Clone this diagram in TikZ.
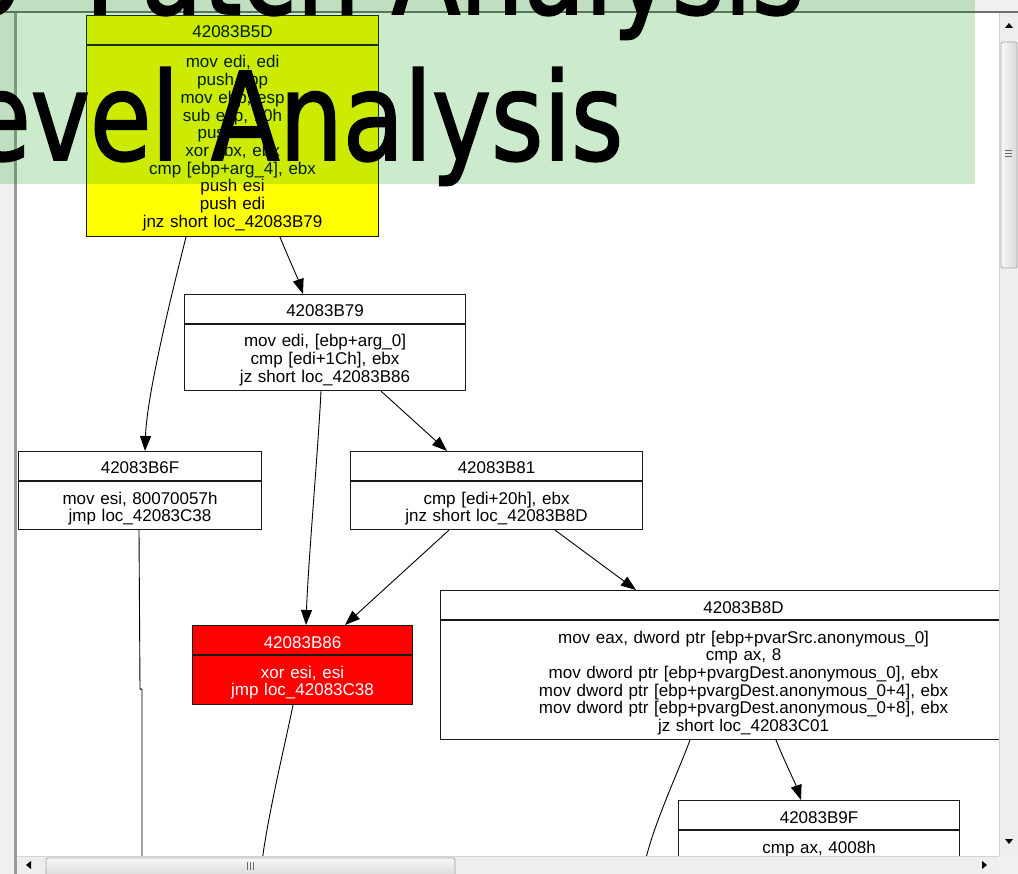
\documentclass[tikz,border=0pt]{standalone}
\usepackage{fontspec}
\setmainfont{Liberation Sans}
\newfontfamily\titlefont[FakeStretch=0.82,FakeBold=1.5]{DejaVu Sans}
\usetikzlibrary{calc,arrows.meta}

\definecolor{chrome}{HTML}{F0F0F0}
\definecolor{track}{HTML}{EEEEEE}
\definecolor{chromeline}{HTML}{9A9A9A}
\definecolor{topline}{HTML}{6E6E6E}
\definecolor{thumbedge}{HTML}{A5A5A5}
\definecolor{thumblight}{HTML}{F7F7F7}
\definecolor{thumbdark}{HTML}{DADADA}
\definecolor{grip}{HTML}{6A6A6A}
\definecolor{bandgreen}{RGB}{0,155,0}
\definecolor{idaframe}{HTML}{1A1A1A}
\definecolor{idayellow}{HTML}{FFFF00}
\definecolor{idared}{HTML}{FF0000}

\tikzset{
  blockbox/.style={draw=idaframe, line width=1.1pt, inner sep=0pt, rectangle},
  hdrtext/.style={inner sep=0pt, anchor=base, font=\fontsize{17}{17.7}\selectfont},
  bodytext/.style={inner sep=0pt, anchor=base, align=center, font=\fontsize{17}{17.7}\selectfont},
  flow/.style={draw=black, line width=0.9pt, -{Triangle[length=15pt,width=11pt]}},
  flowtail/.style={draw=black, line width=0.9pt},
  titletext/.style={inner sep=0pt, anchor=base west, text=black, font=\titlefont\fontsize{122}{146}\selectfont},
  arrowglyph/.style={fill=black},
}

% name, left, top, width, height, fill, text colour, address, instructions
\newcommand\idablock[9]{%
  \node[blockbox, fill=#6, minimum width=#4pt, minimum height=#5pt, anchor=north west] (#1) at (#2,#3) {};
  \draw[draw=idaframe, line width=1.1pt] ($(#1.north west)+(0,30)$) -- ($(#1.north east)+(0,30)$);
  \node[hdrtext, text=#7] (#1-hdr) at ($(#1.north)+(0,23)$) {#8};
  \node[bodytext, text=#7, text width=#4pt] (#1-body) at ($(#1.north)+(0,53)$) {#9};
}

\begin{document}
\begin{tikzpicture}[x=1pt, y=-1pt]
\useasboundingbox (0,0) rectangle (1018,874);
\clip (0,0) rectangle (1018,874);
\fill[white] (0,0) rectangle (1018,874);

% basic blocks of the flow graph
\idablock{b5d}{86}{15}{292}{221}{idayellow}{black}{42083B5D}
  {mov edi, edi\\push ebp\\mov ebp, esp\\sub esp, 10h\\push ebx\\xor ebx, ebx\\cmp [ebp+arg\_4], ebx\\push esi\\push edi\\jnz short loc\_42083B79}
\idablock{b79}{184}{294}{281}{96}{white}{black}{42083B79}
  {mov edi, [ebp+arg\_0]\\cmp [edi+1Ch], ebx\\jz short loc\_42083B86}
\idablock{b6f}{18}{451}{243}{78}{white}{black}{42083B6F}
  {mov esi, 80070057h\\jmp loc\_42083C38}
\idablock{b81}{350}{451}{292}{78}{white}{black}{42083B81}
  {cmp [edi+20h], ebx\\jnz short loc\_42083B8D}
\idablock{b86}{192}{625}{220}{79}{idared}{white}{42083B86}
  {xor esi, esi\\jmp loc\_42083C38}
\idablock{b8d}{440}{590}{606}{149}{white}{black}{42083B8D}
  {mov eax, dword ptr [ebp+pvarSrc.anonymous\_0]\\cmp ax, 8\\mov dword ptr [ebp+pvargDest.anonymous\_0], ebx\\mov dword ptr [ebp+pvargDest.anonymous\_0+4], ebx\\mov dword ptr [ebp+pvargDest.anonymous\_0+8], ebx\\jz short loc\_42083C01}
\idablock{b9f}{678}{800}{281}{100}{white}{black}{42083B9F}
  {cmp ax, 4008h}

% edges leaving the visible area
\coordinate (exit7) at (142,880);
\coordinate (exit8) at (260,880);
\coordinate (exit9) at (642,880);

% control-flow edges
\draw[flow] ($(b5d.south west)+(100,0)$) .. controls +(-10,40) and +(2,-60) .. ($(b6f.north west)+(127,0)$);
\draw[flow] ($(b5d.south west)+(194,0)$) .. controls +(6,15) and +(-5,-15) .. ($(b79.north west)+(119,0)$);
\draw[flow] ($(b79.south west)+(137,0)$) .. controls +(-3,60) and +(2,-60) .. ($(b86.north west)+(114,0)$);
\draw[flow] ($(b79.south west)+(197,0)$) -- ($(b81.north west)+(97,0)$);
\draw[flow] ($(b81.south west)+(99,0)$) -- ($(b86.north west)+(153,0)$);
\draw[flow] ($(b81.south west)+(205,0)$) -- ($(b8d.north west)+(196,0)$);
\draw[flowtail] ($(b6f.south west)+(121,0)$) -- ++(1,159) -- ++(2,0) -- (exit7);
\draw[flowtail] ($(b86.south west)+(101,0)$) .. controls +(-8,40) and +(4,-50) .. (exit8);
\draw[flowtail] ($(b8d.south west)+(250,0)$) .. controls +(-15,40) and +(4,-40) .. (exit9);
\draw[flow] ($(b8d.south west)+(336,0)$) .. controls +(8,20) and +(-5,-15) .. ($(b9f.north west)+(123,0)$);

% window frame: top edge and left margin
\fill[chrome] (0,0) rectangle (1018,11);
\fill[topline] (0,11) rectangle (1018,13);
\fill[chrome] (0,13) rectangle (14,874);
\fill[chromeline] (14,13) rectangle (16.5,874);

% vertical scroll bar
\fill[track] (999,13) rectangle (1018,856);
\draw[draw=thumbedge!50, line width=0.6pt] (999.3,13) -- (999.3,856);
\fill[arrowglyph] (1005,28) -- (1013,28) -- (1009,23) -- cycle;
\shade[left color=thumblight, right color=thumbdark, rounded corners=2pt, draw=thumbedge, line width=0.8pt] (1001,42) rectangle (1017,268);
\foreach \g in {150,153,156} \draw[grip, line width=0.8pt] (1005,\g) -- (1012,\g);
\fill[arrowglyph] (1005,839) -- (1013,839) -- (1009,844) -- cycle;

% horizontal scroll bar
\fill[track] (16.5,856) rectangle (999,874);
\draw[draw=thumbedge!50, line width=0.6pt] (16.5,856.3) -- (999,856.3);
\fill[arrowglyph] (31,861) -- (31,869) -- (26,865) -- cycle;
\shade[top color=thumblight, bottom color=thumbdark, rounded corners=2pt, draw=thumbedge, line width=0.8pt] (46,858) rectangle (455,876);
\foreach \g in {247,250,253} \draw[grip, line width=0.8pt] (\g,862) -- (\g,870);
\fill[arrowglyph] (982,861) -- (982,869) -- (987,865) -- cycle;
\fill[chrome] (999,856) rectangle (1018,874);

% translucent title band
\fill[bandgreen, fill opacity=0.2] (0,0) rectangle (975,184);
\node[titletext] (title1) at (-40,14) {o\hspace{32pt} Patch Analysis};
\node[titletext] (title2) at (-31,160) {evel Analysis};
\end{tikzpicture}
\end{document}
